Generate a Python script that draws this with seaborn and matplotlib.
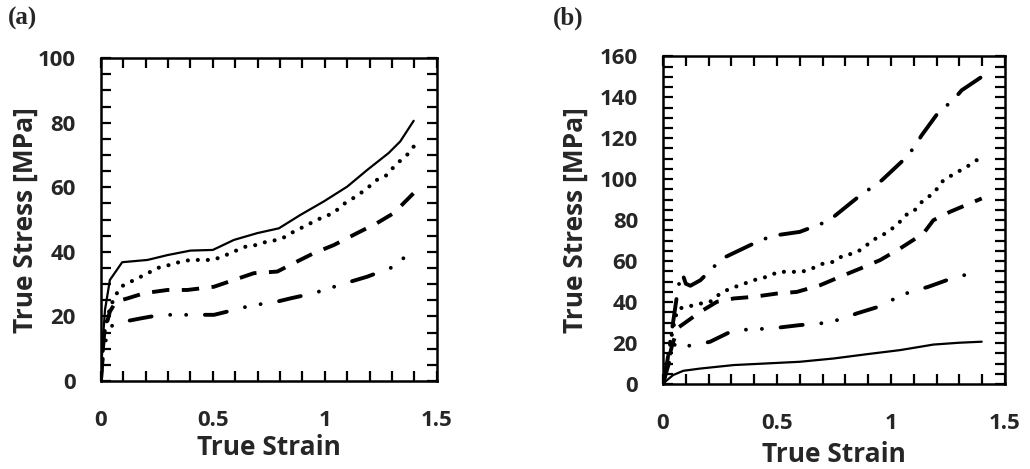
import numpy as np
import pandas as pd
import matplotlib
matplotlib.use("Agg")
import matplotlib.pyplot as plt
import seaborn as sns
from matplotlib.ticker import MultipleLocator, FuncFormatter

# ---- panel (a) data (true strain, true stress MPa)
a_solid_x = [0, 0.006, 0.018, 0.04, 0.095, 0.208, 0.297, 0.40, 0.50, 0.594, 0.698, 0.795, 0.89, 0.995, 1.10, 1.19, 1.285, 1.337, 1.397]
a_solid_y = [0, 10, 22, 31.3, 36.8, 37.5, 39, 40.4, 40.6, 43.7, 45.8, 47.3, 51.4, 55.6, 60.2, 65.4, 70.6, 74.2, 80.6]

a_dot_x = [0, 0.005, 0.015, 0.03, 0.045, 0.067, 0.089, 0.134, 0.178, 0.223, 0.267, 0.312, 0.357, 0.401, 0.446, 0.498, 0.542, 0.594, 0.646, 0.691, 0.743, 0.788, 0.825, 0.862, 0.906, 0.951, 0.996, 1.04, 1.077, 1.122, 1.181, 1.233, 1.278, 1.315, 1.367, 1.397]
a_dot_y = [0, 8, 14.8, 20, 23.5, 26.7, 29.2, 30.8, 32.3, 33.9, 35.4, 36, 37, 37.5, 37.5, 37.5, 38.5, 40.1, 41.6, 42.1, 43.2, 43.7, 44.7, 46.3, 47.8, 49.4, 50.9, 52, 54.5, 56.4, 59.2, 62.3, 63.8, 66.9, 70, 72.6]

a_dash_x = [0, 0.005, 0.015, 0.04, 0.067, 0.119, 0.193, 0.297, 0.386, 0.505, 0.594, 0.683, 0.788, 0.847, 0.951, 1.04, 1.144, 1.233, 1.308, 1.397]
a_dash_y = [0, 7, 15, 21.5, 24.6, 25.6, 27.2, 28.2, 28.2, 29.2, 31.3, 33.4, 33.9, 36, 39.6, 42.1, 45.8, 48.9, 52, 58.2]

a_dd_x = [0, 0.005, 0.015, 0.03, 0.052, 0.104, 0.178, 0.267, 0.357, 0.431, 0.505, 0.594, 0.683, 0.758, 0.847, 0.951, 1.092, 1.189, 1.308, 1.397]
a_dd_y = [0, 5, 11, 14.5, 17.4, 18.4, 19.4, 20.5, 20.5, 20.5, 20.5, 22, 23.6, 24.1, 25.6, 27.2, 30.3, 32.3, 35.4, 40.8]

# ---- panel (b) data
b_solid_x = [0, 0.009, 0.044, 0.089, 0.164, 0.31, 0.456, 0.60, 0.748, 0.894, 1.04, 1.127, 1.186, 1.30, 1.398]
b_solid_y = [0, 1.1, 4.4, 6.5, 7.6, 9.3, 10.1, 10.9, 12.5, 14.6, 16.6, 18.2, 19.3, 20.2, 20.7]

b_dashdot_x = [0, 0.02, 0.04, 0.061, 0.072, 0.085, 0.1, 0.12, 0.164, 0.222, 0.273, 0.397, 0.448, 0.50, 0.60, 0.697, 0.748, 0.857, 0.908, 0.96, 1.054, 1.098, 1.135, 1.215, 1.266, 1.31, 1.405]
b_dashdot_y = [0, 12, 27, 43, 50, 54, 49, 48, 50.7, 57.2, 62, 68.6, 71, 72.7, 74.3, 78.4, 81.6, 91.4, 95.4, 99.5, 109.3, 115, 121.5, 133.7, 137.7, 143.4, 150.5]

b_dot_x = [0, 0.02, 0.04, 0.055, 0.069, 0.105, 0.164, 0.207, 0.251, 0.295, 0.339, 0.397, 0.456, 0.507, 0.558, 0.609, 0.653, 0.704, 0.748, 0.792, 0.835, 0.879, 0.916, 0.952, 0.996, 1.033, 1.062, 1.098, 1.142, 1.186, 1.23, 1.28, 1.332, 1.376, 1.398]
b_dot_y = [0, 12, 25, 33, 36.9, 37.7, 39.3, 40.2, 44.2, 46.7, 48.3, 50.7, 52.4, 54.8, 54.8, 54.8, 56.4, 58.9, 59.7, 62.9, 63.7, 66.2, 70.2, 71.9, 75.1, 78.4, 82.4, 84.1, 89.8, 93, 99.5, 102.8, 106, 109.3, 111.7]

b_dash_x = [0, 0.02, 0.04, 0.066, 0.164, 0.237, 0.31, 0.397, 0.50, 0.587, 0.69, 0.777, 0.865, 0.952, 1.04, 1.142, 1.186, 1.259, 1.398]
b_dash_y = [0, 10, 19, 27.5, 35.3, 40.2, 41.8, 42.6, 44.2, 45, 48.3, 52.4, 56.4, 60.5, 66.2, 73.5, 80, 84.1, 90.6]

b_dd_x = [0, 0.02, 0.04, 0.053, 0.09, 0.142, 0.207, 0.31, 0.39, 0.478, 0.60, 0.718, 0.79, 0.85, 0.967, 1.04, 1.164, 1.244, 1.347]
b_dd_y = [0, 8, 15, 19.8, 18.5, 19, 20.7, 26.3, 26.7, 27.2, 28.8, 29.9, 32, 34.5, 38.5, 43.4, 47.5, 50.7, 54]

sns.set_style("ticks")
plt.rcParams["font.family"] = ["Open Sans", "DejaVu Sans"]
plt.rcParams["font.weight"] = "bold"
plt.rcParams["lines.scale_dashes"] = False  # dash lengths in points

fig = plt.figure(figsize=(10.3, 4.69), dpi=100)
ax_a = fig.add_axes([0.098, 0.1876, 0.326, 0.6884])
ax_b = fig.add_axes([0.6437, 0.181, 0.332, 0.699])

LW = 2.8
dot_style = (0, (0.01, 7.2))
dash_style = (0, (12.5, 9.0))
dd_style = (0, (16.0, 13.5, 0.01, 11.5, 0.01, 13.5))
dashdot_style = (0, (20.0, 11.0, 0.01, 11.0))


def draw(ax, x, y, ls, lw=LW, cap="round"):
    df = pd.DataFrame({"strain": x, "stress": y})
    sns.lineplot(data=df, x="strain", y="stress", ax=ax, color="black",
                 linewidth=lw, linestyle=ls, estimator=None, sort=False,
                 dash_capstyle=cap)


draw(ax_a, a_solid_x, a_solid_y, "-", lw=1.6)
draw(ax_a, a_dot_x, a_dot_y, dot_style, lw=3.0)
draw(ax_a, a_dash_x, a_dash_y, dash_style, cap="butt")
draw(ax_a, a_dd_x, a_dd_y, dd_style)

draw(ax_b, b_solid_x, b_solid_y, "-", lw=1.6)
draw(ax_b, b_dashdot_x, b_dashdot_y, dashdot_style)
draw(ax_b, b_dot_x, b_dot_y, dot_style, lw=3.0)
draw(ax_b, b_dash_x, b_dash_y, dash_style, cap="butt")
draw(ax_b, b_dd_x, b_dd_y, dd_style)

for ax, ymax, panel, px, ylx, xpad in [(ax_a, 100, "(a)", 0.008, -0.185, 2),
                                        (ax_b, 160, "(b)", 0.537, -0.217, 5)]:
    ax.set_xlim(0, 1.5)
    ax.set_ylim(0, ymax)
    ax.xaxis.set_major_locator(MultipleLocator(0.5))
    ax.xaxis.set_minor_locator(MultipleLocator(0.1))
    ax.yaxis.set_major_locator(MultipleLocator(20))
    ax.yaxis.set_minor_locator(MultipleLocator(5))
    ax.xaxis.set_major_formatter(FuncFormatter(lambda v, p: f"{v:g}"))
    ax.tick_params(which="both", direction="in", top=True, right=True,
                   length=7, width=1.6, color="black")
    ax.tick_params(axis="x", which="major", labelsize=16, pad=21)
    ax.tick_params(axis="y", which="major", labelsize=16, pad=18)
    for s in ax.spines.values():
        s.set_linewidth(1.8)
        s.set_color("black")
        s.set_visible(True)
    ax.set_xlabel("True Strain", fontsize=19, fontweight="bold", labelpad=xpad)
    ax.set_ylabel("True Stress [MPa]", fontsize=19, fontweight="bold")
    ax.yaxis.set_label_coords(ylx, 0.5)
    fig.text(px, 0.985, panel, fontsize=18, fontweight="bold",
             family="Liberation Serif", va="top", ha="left")

fig.savefig("out.png", dpi=100)
